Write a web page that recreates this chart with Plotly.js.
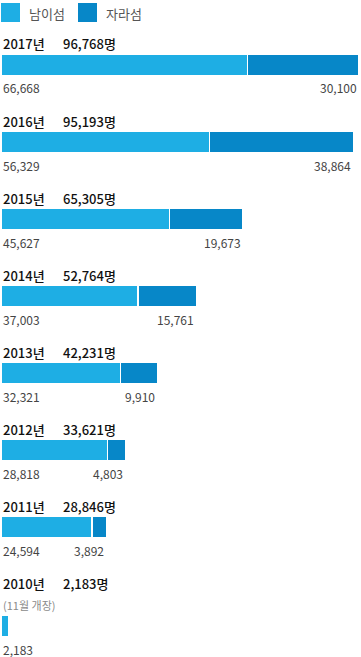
<!DOCTYPE html>
<html>
<head>
<meta charset="utf-8">
<script src="https://cdn.plot.ly/plotly-3.0.1.min.js"></script>
<style>
html,body{margin:0;padding:0;background:#fff;}
#chart{width:361px;height:657px;}
</style>
</head>
<body>
<div id="chart"></div>
<script>
var years = ['2017','2016','2015','2014','2013','2012','2011','2010'];
var nami = [66668, 56329, 45627, 37003, 32321, 28818, 24594, 2183];
var jara = [30100, 38864, 19673, 15761, 9910, 4803, 3892, 0];
var totals = [96768, 95193, 65305, 52764, 42231, 33621, 28846, 2183];
var seriesNames = ['남이섬', '자라섬'];
var notes = {'2010': '(11월 개장)'};

var colors = ['#1eaee4', '#0787c8'];
var FONT = '"Noto Sans CJK KR", "Noto Sans", sans-serif';
var FONT_MED = '"Noto Sans CJK KR Medium", "Noto Sans CJK KR", "Noto Sans", sans-serif';

// row positions (extra room for the note row)
var yPos = years.map(function(y, i){ return i + (notes[years[i]] ? 0.286 : 0); });

function fmt(n){ return n.toLocaleString('en-US'); }

var traces = [nami, jara].map(function(vals, k){
  return {
    type: 'bar', orientation: 'h',
    x: vals, y: yPos, name: seriesNames[k],
    width: 0.27,
    marker: {color: colors[k], line: {color: '#ffffff', width: 1.2}},
    hoverinfo: 'none', showlegend: false
  };
});

var ann = [];
var shapes = [];
years.forEach(function(yr, i){
  var hasNote = !!notes[yr];
  var up = hasNote ? 43 : 21;
  ann.push({x: 0, y: yPos[i], xref: 'x', yref: 'y', xanchor: 'left', yanchor: 'middle',
    yshift: up, text: yr + '년', showarrow: false,
    font: {family: FONT_MED, size: 13, color: '#111'}});
  ann.push({x: 0.167, y: yPos[i], xref: 'paper', yref: 'y', xanchor: 'left', yanchor: 'middle',
    yshift: up, text: fmt(totals[i]) + '명', showarrow: false,
    font: {family: FONT_MED, size: 13, color: '#111'}});
  if (hasNote) {
    ann.push({x: 0, y: yPos[i], xref: 'x', yref: 'y', xanchor: 'left', yanchor: 'middle',
      yshift: 21, text: notes[yr], showarrow: false,
      font: {family: FONT, size: 11, color: '#8a8a8a'}});
  }
  ann.push({x: 0, y: yPos[i], xref: 'x', yref: 'y', xanchor: 'left', yanchor: 'middle',
    yshift: -23, text: fmt(nami[i]), showarrow: false,
    font: {family: FONT, size: 12, color: '#444'}});
  if (jara[i] > 0) {
    ann.push({x: nami[i] + jara[i], y: yPos[i], xref: 'x', yref: 'y', xanchor: 'right', yanchor: 'middle',
      yshift: -23, text: fmt(jara[i]), showarrow: false,
      font: {family: FONT, size: 12, color: '#444'}});
  }
});

// custom legend
var legX = [1, 78];
seriesNames.forEach(function(nm, k){
  shapes.push({type: 'rect', xref: 'paper', yref: 'paper', xsizemode: 'pixel', ysizemode: 'pixel',
    xanchor: 0, yanchor: 1, x0: legX[k] - 1, x1: legX[k] + 18, y0: -3, y1: -22,
    fillcolor: colors[k], line: {width: 0}});
  ann.push({x: 0, y: 1, xref: 'paper', yref: 'paper', xanchor: 'left', yanchor: 'middle',
    xshift: legX[k] + 25, yshift: -13, text: nm, showarrow: false,
    font: {family: FONT, size: 13, color: '#555'}});
});

var layout = {
  width: 361, height: 657,
  margin: {l: 1, r: 2, t: 0, b: 0, pad: 0},
  barmode: 'stack',
  bargap: 0,
  paper_bgcolor: '#fff', plot_bgcolor: '#fff',
  xaxis: {range: [0, 96768], visible: false, fixedrange: true},
  yaxis: {range: [7.688, -0.844], visible: false, fixedrange: true},
  annotations: ann,
  shapes: shapes,
  font: {family: FONT}
};

Plotly.newPlot('chart', traces, layout, {displayModeBar: false, staticPlot: true});
</script>
</body>
</html>
